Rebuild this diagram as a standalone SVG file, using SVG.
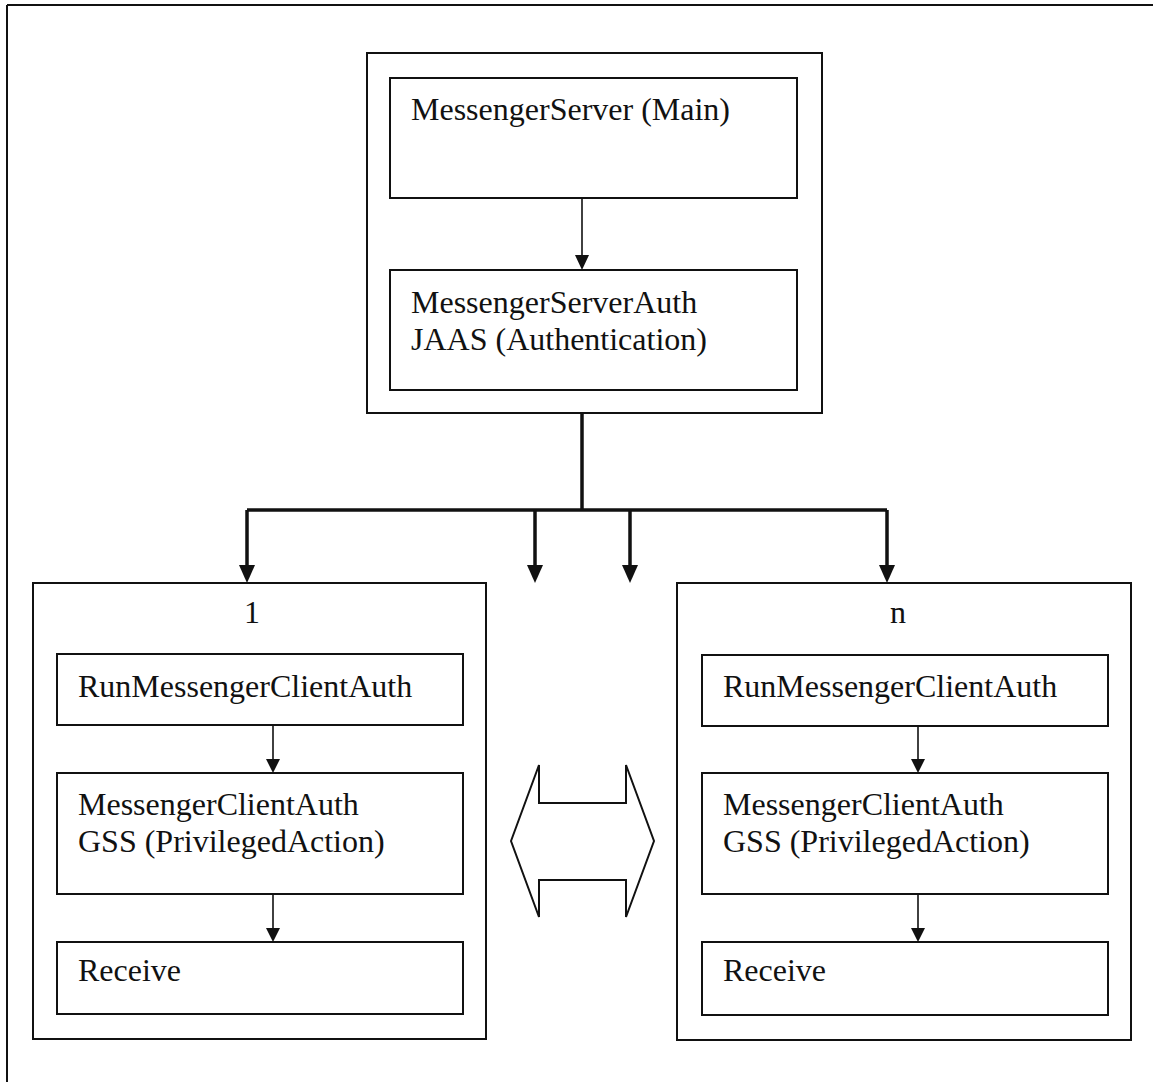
<svg xmlns="http://www.w3.org/2000/svg" width="1153" height="1082" viewBox="0 0 1153 1082">
  <style>
    .box { fill: #ffffff; stroke: #111111; stroke-width: 2; }
    .lbl { font-family: "Liberation Serif", "Times New Roman", serif; font-size: 32px; fill: #111111; }
    .thin { stroke: #111111; stroke-width: 1.6; fill: none; }
    .thick { stroke: #111111; stroke-width: 3.5; fill: none; }
    .head { fill: #111111; }
  </style>
  <rect x="0" y="0" width="1153" height="1082" fill="#ffffff"/>

  <!-- page frame (top and left edges only) -->
  <g id="frame">
    <line x1="7" y1="5" x2="1153" y2="5" stroke="#111111" stroke-width="2"/>
    <line x1="7" y1="5" x2="7" y2="1082" stroke="#111111" stroke-width="2"/>
  </g>

  <!-- server container -->
  <g id="server">
    <rect class="box" x="367" y="53" width="455" height="360"/>
    <g id="server-main">
      <rect class="box" x="390" y="78" width="407" height="120"/>
      <text class="lbl" x="411" y="120">MessengerServer (Main)</text>
    </g>
    <g id="server-auth">
      <rect class="box" x="390" y="270" width="407" height="120"/>
      <text class="lbl" x="411" y="313">MessengerServerAuth</text>
      <text class="lbl" x="411" y="350">JAAS (Authentication)</text>
    </g>
  </g>

  <!-- client 1 container -->
  <g id="client-1">
    <rect class="box" x="33" y="583" width="453" height="456"/>
    <text class="lbl" x="252" y="623" text-anchor="middle">1</text>
    <g id="client-1-run">
      <rect class="box" x="57" y="654" width="406" height="71"/>
      <text class="lbl" x="78" y="697">RunMessengerClientAuth</text>
    </g>
    <g id="client-1-auth">
      <rect class="box" x="57" y="773" width="406" height="121"/>
      <text class="lbl" x="78" y="815">MessengerClientAuth</text>
      <text class="lbl" x="78" y="852">GSS (PrivilegedAction)</text>
    </g>
    <g id="client-1-receive">
      <rect class="box" x="57" y="942" width="406" height="72"/>
      <text class="lbl" x="78" y="981">Receive</text>
    </g>
  </g>

  <!-- client n container -->
  <g id="client-n">
    <rect class="box" x="677" y="583" width="454" height="457"/>
    <text class="lbl" x="898" y="623" text-anchor="middle">n</text>
    <g id="client-n-run">
      <rect class="box" x="702" y="655" width="406" height="71"/>
      <text class="lbl" x="723" y="697">RunMessengerClientAuth</text>
    </g>
    <g id="client-n-auth">
      <rect class="box" x="702" y="773" width="406" height="121"/>
      <text class="lbl" x="723" y="815">MessengerClientAuth</text>
      <text class="lbl" x="723" y="852">GSS (PrivilegedAction)</text>
    </g>
    <g id="client-n-receive">
      <rect class="box" x="702" y="942" width="406" height="73"/>
      <text class="lbl" x="723" y="981">Receive</text>
    </g>
  </g>

  <!-- two-way exchange arrow between clients -->
  <g id="exchange">
    <polygon points="511,841 539,765 539,803 626,803 626,765 654,841 626,917 626,880 539,880 539,917"
             fill="#ffffff" stroke="#111111" stroke-width="2" stroke-linejoin="miter"/>
  </g>

  <!-- connectors -->
  <g id="connectors">
    <!-- server main -> server auth -->
    <line class="thin" x1="582" y1="198" x2="582" y2="256"/>
    <polygon class="head" points="575,255 589,255 582,270"/>

    <!-- server fan-out bus -->
    <line class="thick" x1="582" y1="413" x2="582" y2="510"/>
    <line class="thick" x1="247" y1="510" x2="887" y2="510"/>
    <line class="thick" x1="247" y1="510" x2="247" y2="568"/>
    <line class="thick" x1="535" y1="510" x2="535" y2="568"/>
    <line class="thick" x1="630" y1="510" x2="630" y2="568"/>
    <line class="thick" x1="887" y1="510" x2="887" y2="568"/>
    <polygon class="head" points="239,565 255,565 247,583"/>
    <polygon class="head" points="527,565 543,565 535,583"/>
    <polygon class="head" points="622,565 638,565 630,583"/>
    <polygon class="head" points="879,565 895,565 887,583"/>

    <!-- client 1 chain -->
    <line class="thin" x1="273" y1="725" x2="273" y2="760"/>
    <polygon class="head" points="266,759 280,759 273,773"/>
    <line class="thin" x1="273" y1="894" x2="273" y2="929"/>
    <polygon class="head" points="266,928 280,928 273,942"/>

    <!-- client n chain -->
    <line class="thin" x1="918" y1="726" x2="918" y2="760"/>
    <polygon class="head" points="911,759 925,759 918,773"/>
    <line class="thin" x1="918" y1="894" x2="918" y2="929"/>
    <polygon class="head" points="911,928 925,928 918,942"/>
  </g>
</svg>
